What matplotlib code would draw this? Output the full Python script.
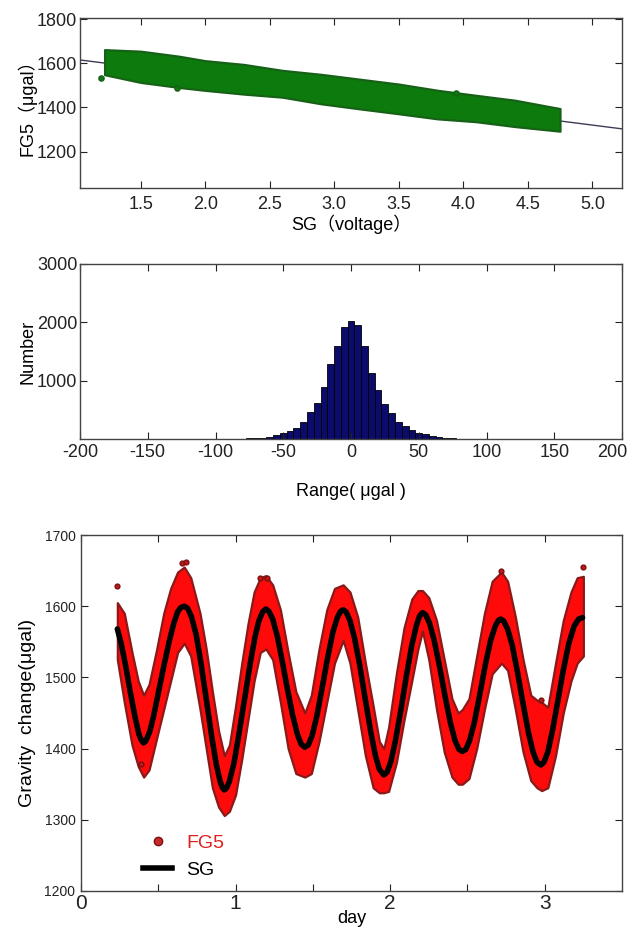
import numpy as np
import matplotlib
matplotlib.use("Agg")
import matplotlib.pyplot as plt
import matplotlib.transforms as mtransforms
from matplotlib.lines import Line2D

plt.rcParams['font.family'] = ['Liberation Sans', 'Noto Sans CJK SC']
plt.rcParams['axes.unicode_minus'] = False

# --- panel 1: FG5 vs SG voltage (cloud envelope) ---
sg_volt = [1.22, 1.5, 1.8, 2.0, 2.3, 2.6, 2.9, 3.2, 3.5, 3.8, 4.1, 4.4, 4.75]
fg5_upper = [1662, 1655, 1632, 1612, 1595, 1568, 1550, 1528, 1506, 1478, 1455, 1433, 1395]
fg5_lower = [1548, 1513, 1490, 1477, 1460, 1446, 1416, 1393, 1371, 1348, 1335, 1313, 1292]
green_out_x = [1.19, 1.78, 3.94]
green_out_y = [1531, 1488, 1467]
fit_slope = -74.3
fit_intercept = 1691.5

# --- panel 2: histogram of residuals ---
bin_centers = list(range(-75, 81, 5))
bin_counts = [10, 15, 25, 40, 63, 97, 143, 183, 297, 457, 611, 897, 1286, 1594, 1925, 2023,
              1954, 1594, 1140, 840, 600, 440, 290, 215, 150, 110, 80, 60, 40, 25, 15, 8]

# --- panel 3: gravity change time series ---
sg_days = [0.235, 0.26, 0.29, 0.32, 0.35, 0.375, 0.39, 0.405,
           0.42, 0.445, 0.47, 0.50, 0.535, 0.57, 0.60, 0.625, 0.645, 0.668,
           0.69, 0.715, 0.745, 0.775, 0.81, 0.845, 0.875, 0.90, 0.915, 0.927,
           0.94, 0.96, 0.99, 1.02, 1.06, 1.095, 1.125, 1.15, 1.175, 1.196,
           1.215, 1.24, 1.27, 1.30, 1.335, 1.37, 1.40, 1.425, 1.448,
           1.47, 1.495, 1.525, 1.56, 1.595, 1.63, 1.66, 1.68, 1.696,
           1.715, 1.74, 1.77, 1.805, 1.84, 1.875, 1.905, 1.93, 1.959,
           1.98, 2.005, 2.035, 2.07, 2.105, 2.14, 2.17, 2.19, 2.209,
           2.23, 2.255, 2.285, 2.32, 2.355, 2.39, 2.42, 2.445, 2.467,
           2.49, 2.515, 2.545, 2.58, 2.615, 2.65, 2.68, 2.70, 2.715,
           2.735, 2.76, 2.79, 2.825, 2.86, 2.895, 2.925, 2.95, 2.975,
           2.995, 3.02, 3.05, 3.085, 3.12, 3.155, 3.19, 3.22, 3.245]
sg_gravity = [1568, 1548, 1515, 1478, 1444, 1420, 1412, 1408,
              1411, 1424, 1446, 1478, 1515, 1550, 1576, 1592, 1598, 1600,
              1597, 1585, 1560, 1522, 1470, 1418, 1378, 1354, 1345, 1342,
              1344, 1354, 1380, 1418, 1472, 1520, 1556, 1579, 1592, 1596,
              1593, 1582, 1558, 1525, 1484, 1446, 1420, 1406, 1402,
              1405, 1418, 1445, 1485, 1527, 1564, 1585, 1593, 1595,
              1592, 1580, 1555, 1515, 1468, 1423, 1390, 1371, 1363,
              1367, 1382, 1412, 1455, 1502, 1545, 1573, 1586, 1591,
              1588, 1576, 1552, 1515, 1474, 1436, 1411, 1399, 1396,
              1399, 1412, 1437, 1476, 1517, 1552, 1572, 1580, 1582,
              1579, 1568, 1545, 1506, 1463, 1422, 1395, 1381, 1377,
              1381, 1395, 1425, 1467, 1510, 1547, 1572, 1582, 1584]

fg5_days = [0.235, 0.28, 0.33, 0.37, 0.405, 0.44, 0.49, 0.535, 0.58, 0.625, 0.668, 0.71,
            0.77, 0.81, 0.85, 0.89, 0.927, 0.96, 1.00, 1.04, 1.08, 1.12, 1.16, 1.196,
            1.24, 1.29, 1.34, 1.39, 1.448, 1.49, 1.54, 1.59, 1.64, 1.696, 1.74, 1.79,
            1.84, 1.89, 1.93, 1.959, 1.99, 2.04, 2.09, 2.14, 2.18, 2.209, 2.25, 2.30,
            2.35, 2.40, 2.44, 2.467, 2.51, 2.56, 2.61, 2.66, 2.72, 2.76, 2.81, 2.86,
            2.91, 2.95, 2.98, 3.02, 3.07, 3.12, 3.17, 3.21, 3.25]
fg5_top = [1605, 1590, 1535, 1495, 1475, 1490, 1540, 1590, 1625, 1648, 1655, 1640,
           1590, 1540, 1480, 1425, 1390, 1405, 1460, 1520, 1575, 1620, 1640, 1643,
           1630, 1595, 1535, 1480, 1450, 1475, 1540, 1595, 1625, 1630, 1620, 1585,
           1520, 1460, 1410, 1400, 1430, 1505, 1570, 1610, 1622, 1622, 1612, 1580,
           1525, 1470, 1450, 1455, 1470, 1530, 1590, 1635, 1648, 1635, 1585, 1525,
           1475, 1468, 1465, 1458, 1520, 1580, 1620, 1640, 1642]
fg5_bot = [1525, 1465, 1405, 1375, 1360, 1370, 1415, 1455, 1495, 1535, 1548, 1530,
           1455, 1400, 1345, 1318, 1306, 1312, 1335, 1385, 1440, 1495, 1535, 1540,
           1525, 1465, 1400, 1365, 1360, 1365, 1410, 1465, 1520, 1552, 1520, 1455,
           1390, 1345, 1338, 1338, 1340, 1380, 1440, 1495, 1540, 1565, 1525, 1455,
           1395, 1360, 1350, 1350, 1358, 1400, 1455, 1505, 1520, 1510, 1455, 1395,
           1355, 1345, 1341, 1345, 1390, 1450, 1495, 1520, 1530]
red_out_x = [0.235, 0.655, 0.68, 1.16, 1.205, 2.72, 3.245, 0.39, 2.975]
red_out_y = [1629, 1660, 1662, 1640, 1640, 1650, 1655, 1378, 1468]

fig = plt.figure(figsize=(6.35, 9.33), dpi=100)
ax1 = fig.add_axes([80/635, 1 - 188/933, 542/635, 170/933])
ax2 = fig.add_axes([80/635, 1 - 439/933, 542/635, 175/933])
ax3 = fig.add_axes([81/635, 1 - 891/933, 541/635, 356/933])

for ax in (ax1, ax2, ax3):
    ax.tick_params(direction='in', top=True, right=True, length=5, width=0.8,
                   labelsize=13, colors='#222222')
    for s in ax.spines.values():
        s.set_color('#444444')
        s.set_linewidth(1.0)

# panel 1
xl = np.array([1.03, 5.23])
ax1.plot(xl, fit_intercept + fit_slope * xl, color='#3c3c55', lw=1.0, zorder=1)
ax1.fill_between(sg_volt, fg5_lower, fg5_upper, facecolor='#0c7a0c',
                 edgecolor='#176017', lw=1.5, zorder=2)
ax1.scatter(green_out_x, green_out_y, s=14, color='#0c7a0c', edgecolor='#176017', zorder=3)
ax1.set_xlim(1.03, 5.23)
ax1.set_ylim(1035, 1805)
ax1.set_xticks([1.5, 2.0, 2.5, 3.0, 3.5, 4.0, 4.5, 5.0])
ax1.set_xticklabels(['1.5', '2.0', '2.5', '3.0', '3.5', '4.0', '4.5', '5.0'])
ax1.set_yticks([1200, 1400, 1600, 1800])
ax1.tick_params(axis='y', pad=2)
ax1.tick_params(axis='x', pad=6)
ax1.set_xlabel('SG（voltage）', fontsize=13, labelpad=1)
ax1.set_ylabel('FG5（μgal）', fontsize=13, labelpad=0)

# panel 2
ax2.bar(bin_centers, bin_counts, width=5, color='#0b0b6b', edgecolor='black', lw=0.6)
ax2.set_xlim(-200, 200)
ax2.set_ylim(0, 3000)
ax2.set_xticks([-200, -150, -100, -50, 0, 50, 100, 150, 200])
ax2.set_yticks([1000, 2000, 3000])
ax2.tick_params(axis='y', pad=2)
ax2.set_xlabel('Range( μgal )', fontsize=13, labelpad=16)
ax2.set_ylabel('Number', fontsize=13, labelpad=0)
# keep the last label inside the figure
last = ax2.get_xticklabels()[-1]
last.set_transform(last.get_transform() + mtransforms.ScaledTranslation(-10/100, 0, fig.dpi_scale_trans))

# panel 3
ax3.fill_between(fg5_days, fg5_bot, fg5_top, facecolor='#ff0a0a', edgecolor='#8a1a1a',
                 lw=1.6, zorder=2)
ax3.scatter(red_out_x, red_out_y, s=12, color='#c01818', edgecolor='#7a1010', zorder=3)
ax3.plot(sg_days, sg_gravity, color='black', lw=4, zorder=4,
         solid_capstyle='round', solid_joinstyle='round')
ax3.set_xlim(0, 3.5)
ax3.set_ylim(1200, 1700)
ax3.set_xticks([0, 0.5, 1, 1.5, 2, 2.5, 3])
ax3.set_xticklabels(['0', '', '1', '', '2', '', '3'])
ax3.set_yticks([1200, 1300, 1400, 1500, 1600, 1700])
ax3.tick_params(axis='y', labelsize=10, pad=4)
ax3.tick_params(axis='x', labelsize=15, pad=2)
ax3.set_xlabel('day', fontsize=13, labelpad=-2)
ax3.set_ylabel('Gravity  change(μgal)', fontsize=14, labelpad=6)

handles = [Line2D([], [], marker='o', ls='none', ms=6, color='#c8282a', mec='#7a1010'),
           Line2D([], [], color='black', lw=4)]
leg = ax3.legend(handles, ['FG5', 'SG'], loc='lower left', bbox_to_anchor=(0.115, 0.035),
                 frameon=False, fontsize=14, handlelength=1.5, handletextpad=0.7,
                 labelspacing=0.45, borderpad=0, borderaxespad=0)
leg.get_texts()[0].set_color('#e02020')

fig.savefig('out.png', dpi=100)
